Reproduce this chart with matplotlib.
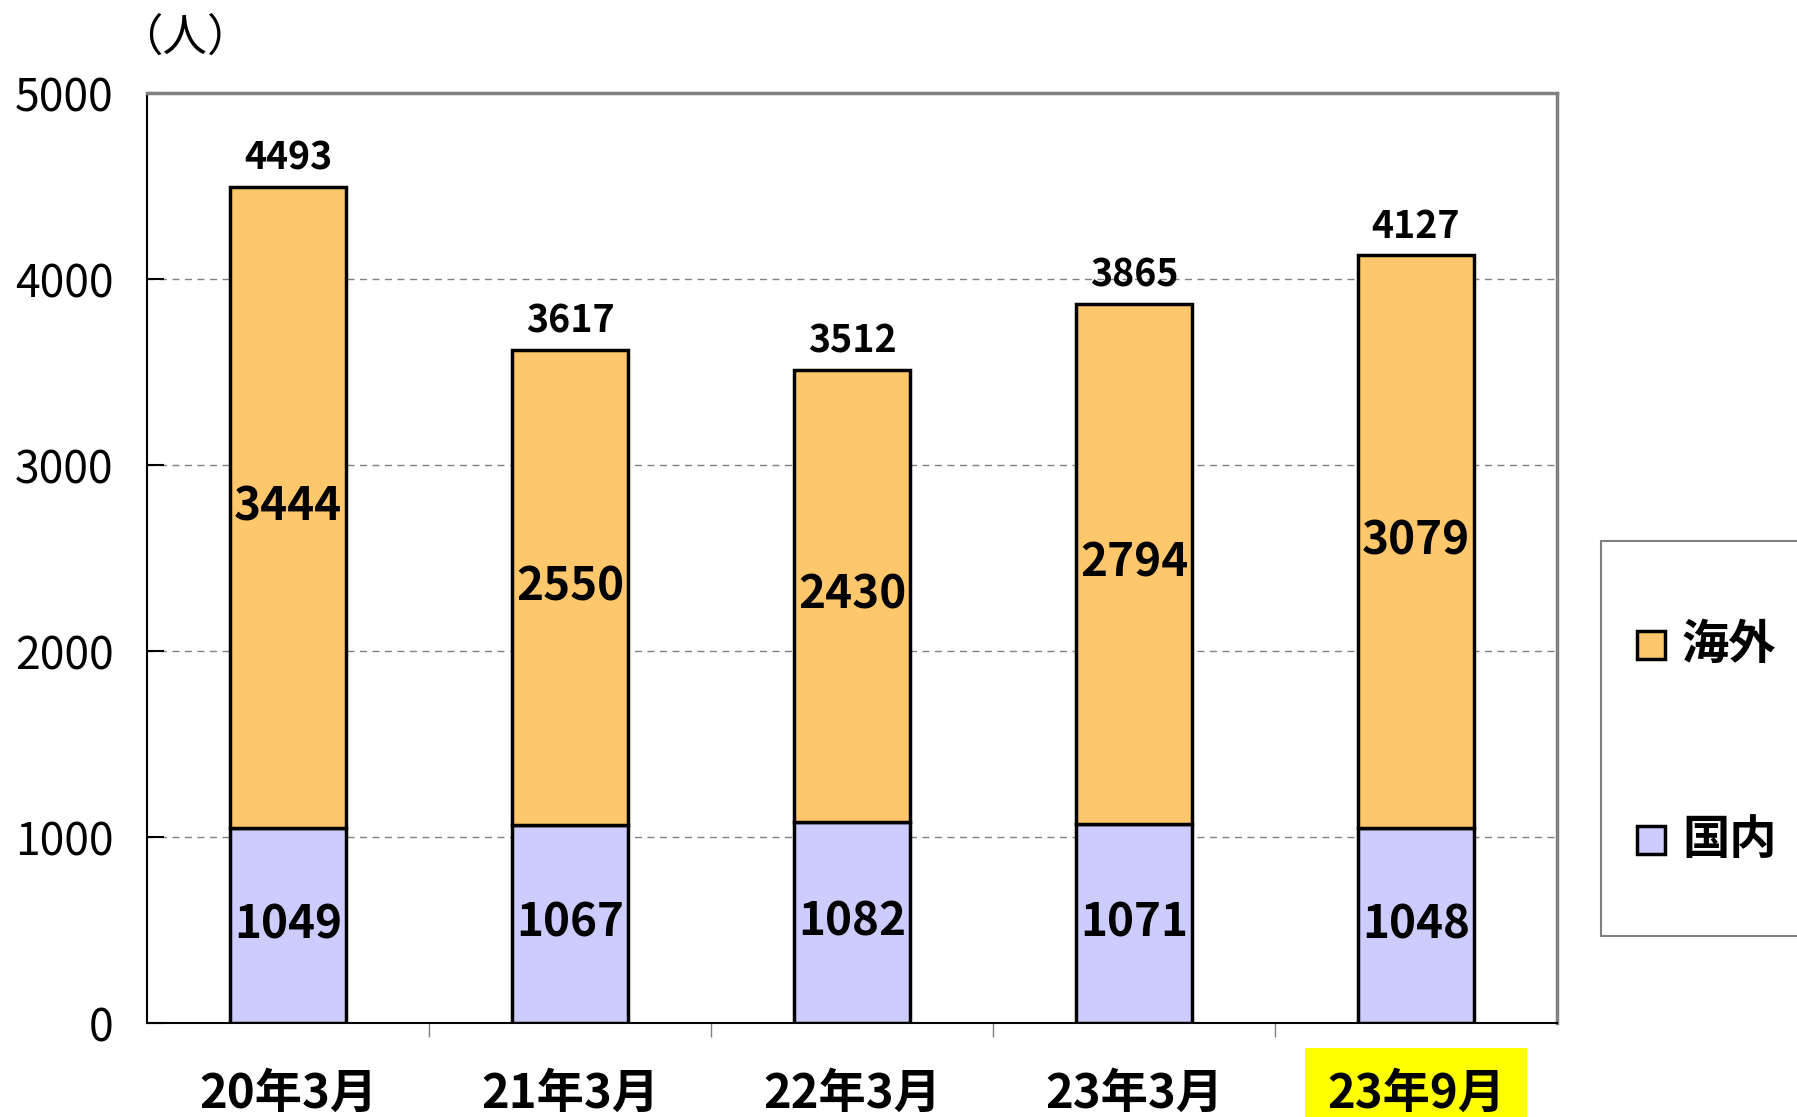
import numpy as np
import matplotlib.pyplot as plt
from matplotlib.patches import Rectangle

plt.rcParams['font.family'] = ['Noto Sans CJK JP', 'DejaVu Sans']

# Data
categories = ['20年3月', '21年3月', '22年3月', '23年3月', '23年9月']
domestic = [1049, 1067, 1082, 1071, 1048]
overseas = [3444, 2550, 2430, 2794, 3079]
totals = [4493, 3617, 3512, 3865, 4127]
y_ticks = [0, 1000, 2000, 3000, 4000, 5000]
series_names = ['海外', '国内']
series_colors = ['#FFC76B', '#CCCCFF']

W, H = 1797, 1117
fig = plt.figure(figsize=(W / 100, H / 100), dpi=100)
ax = fig.add_axes([147 / W, 1 - 1023 / H, 1410 / W, 930 / H])

x = np.arange(len(categories))
width = 0.41

ax.bar(x, domestic, width, color=series_colors[1], edgecolor='black', linewidth=2.5, zorder=3)
ax.bar(x, overseas, width, bottom=domestic, color=series_colors[0], edgecolor='black', linewidth=2.5, zorder=3)

# Segment labels
for i in range(len(categories)):
    ax.text(x[i], domestic[i] / 2, str(domestic[i]), ha='center', va='center',
            fontsize=33, fontweight='bold', zorder=4)
    ax.text(x[i], domestic[i] + overseas[i] / 2, str(overseas[i]), ha='center', va='center',
            fontsize=33, fontweight='bold', zorder=4)
    ax.annotate(str(totals[i]), (x[i], totals[i]), xytext=(0, 7), textcoords='offset points',
                ha='center', va='bottom', fontsize=27, fontweight='bold')

ax.set_xlim(-0.5, 4.5)
ax.set_ylim(0, 5000)
ax.set_yticks(y_ticks)
ax.set_yticklabels([str(v) for v in y_ticks], fontsize=32)
ax.tick_params(axis='y', direction='in', length=12, width=1.5, pad=24)

ax.set_xticks(x)
ax.set_xticklabels(categories, fontsize=34, fontweight='bold')
ax.tick_params(axis='x', length=0, pad=34)
ax.set_xticks(np.arange(0.5, 4.5, 1), minor=True)
ax.tick_params(axis='x', which='minor', direction='out', length=10, width=1, color='#808080')

# highlight the last category label
lab = ax.get_xticklabels()[-1]
lab.set_bbox(dict(facecolor='#FFFF00', edgecolor='none', pad=16))

for v in y_ticks[1:-1]:
    ax.axhline(v, color='#808080', linestyle=(0, (5, 4)), linewidth=1, zorder=1)

ax.spines['left'].set_color('black')
ax.spines['bottom'].set_color('black')
ax.spines['left'].set_linewidth(1.5)
ax.spines['bottom'].set_linewidth(1.5)
ax.spines['top'].set_color('#808080')
ax.spines['right'].set_color('#808080')
ax.spines['top'].set_linewidth(2.5)
ax.spines['right'].set_linewidth(2.5)

fig.text(118 / W, 1 - 38 / H, '（人）', fontsize=32, ha='left', va='center')

# Legend box (extends past the right edge as in the original)
fig.add_artist(Rectangle((1601 / W, 1 - 936 / H), 0.2, 395 / H, transform=fig.transFigure,
                         facecolor='white', edgecolor='#808080', linewidth=1.5))
for name, color, yc in zip(series_names, series_colors, [645, 840]):
    fig.add_artist(Rectangle((1637 / W, 1 - (yc + 14) / H), 28 / W, 28 / H, transform=fig.transFigure,
                             facecolor=color, edgecolor='black', linewidth=2.5))
    fig.text(1682 / W, 1 - yc / H, name, fontsize=34, fontweight='bold', ha='left', va='center')

fig.savefig('out.png', dpi=100)
